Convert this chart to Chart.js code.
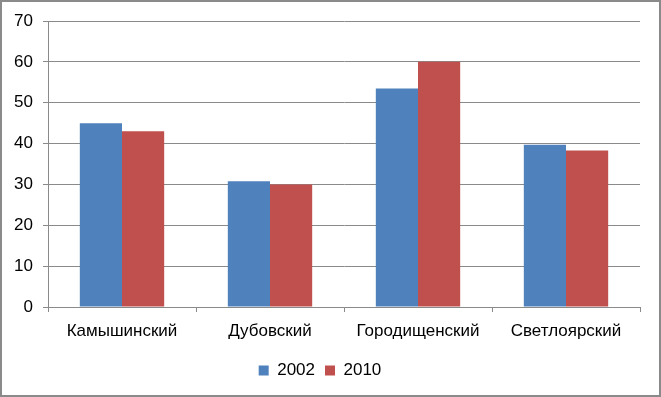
<!DOCTYPE html>
<html>
<head>
<meta charset="utf-8">
<script src="https://cdn.jsdelivr.net/npm/chart.js@4"></script>
<style>
  body { margin: 0; background: #fff; }
  #wrap { width: 661px; height: 397px; }
</style>
</head>
<body>
<div id="wrap"><canvas id="myChart" width="661" height="397"></canvas></div>
<script>
const districts = ["Камышинский", "Дубовский", "Городищенский", "Светлоярский"];
const years = ["2002", "2010"];
const values2002 = [45, 30.8, 53.5, 39.7];
const values2010 = [43, 30, 60, 38.3];
const yTicks = [0, 10, 20, 30, 40, 50, 60, 70];

const fontFamily = "'Liberation Sans', Arial, sans-serif";

// grey frame around the whole picture
const frame = {
  id: "frame",
  afterDraw(chart) {
    const c = chart.ctx;
    c.save();
    c.strokeStyle = "#8a8a8a";
    c.lineWidth = 2;
    c.strokeRect(1, 1, chart.width - 2, chart.height - 2);
    c.restore();
  }
};

const ctx = document.getElementById("myChart");
new Chart(ctx, {
  type: "bar",
  data: {
    labels: districts,
    datasets: [{
      label: years[0],
      data: values2002,
      backgroundColor: "#4F81BD",
      categoryPercentage: 0.57,
      barPercentage: 1.0
    }, {
      label: years[1],
      data: values2010,
      backgroundColor: "#C0504D",
      categoryPercentage: 0.57,
      barPercentage: 1.0
    }]
  },
  options: {
    responsive: false,
    animation: false,
    devicePixelRatio: 1,
    layout: { padding: { left: 0, right: 21, top: 21, bottom: 8 } },
    plugins: {
      legend: {
        position: "bottom",
        labels: {
          boxWidth: 10, boxHeight: 10, padding: 10,
          color: "#000",
          font: { family: fontFamily, size: 17 }
        }
      },
      tooltip: { enabled: false }
    },
    scales: {
      x: {
        offset: true,
        afterFit(scale) { scale.height = 45; },
        grid: { offset: true, drawOnChartArea: false, tickLength: 5, color: "#8a8a8a" },
        border: { color: "#8a8a8a" },
        ticks: { color: "#000", padding: 9, maxRotation: 0, font: { family: fontFamily, size: 17 } }
      },
      y: {
        min: 0,
        max: 70,
        afterBuildTicks(scale) { scale.ticks = yTicks.map(v => ({ value: v })); },
        afterFit(scale) { scale.width = 48; },
        grid: { color: "#8a8a8a", tickLength: 5 },
        border: { color: "#8a8a8a" },
        ticks: { color: "#000", padding: 10, font: { family: fontFamily, size: 17 } }
      }
    }
  },
  plugins: [frame]
});
</script>
</body>
</html>
